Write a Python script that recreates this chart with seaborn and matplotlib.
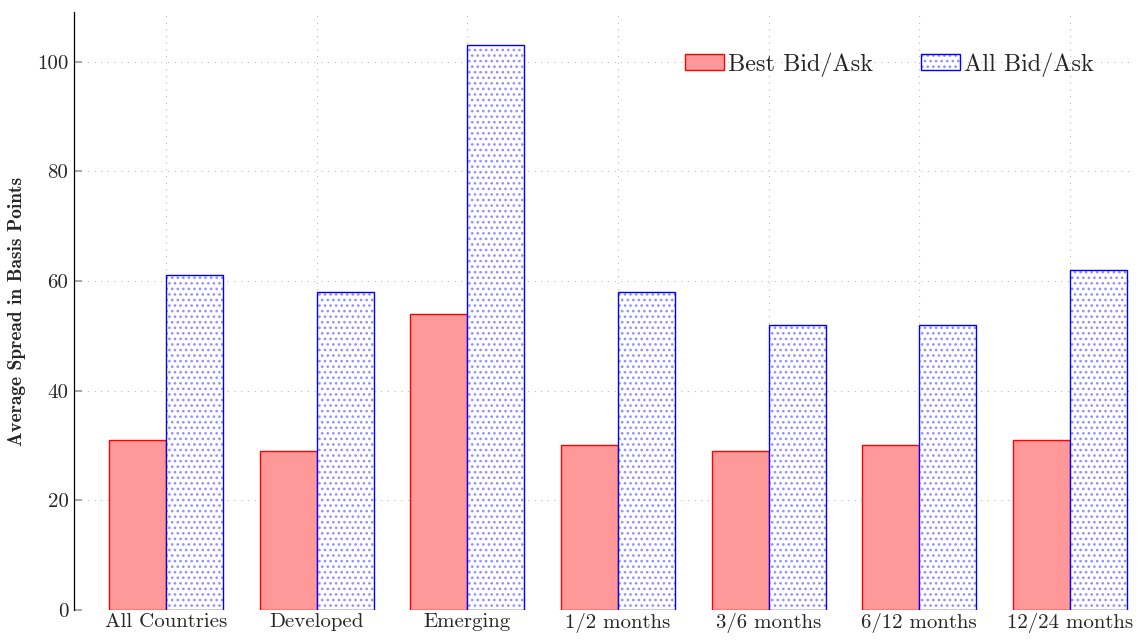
import matplotlib
matplotlib.use("Agg")
import matplotlib.pyplot as plt
import seaborn as sns
import pandas as pd
from matplotlib.patches import Patch
from matplotlib.legend_handler import HandlerTuple

categories = ["All Countries", "Developed", "Emerging", "1/2 months",
              "3/6 months", "6/12 months", "12/24 months"]
best_bid_ask = [31, 29, 54, 30, 29, 30, 31]
all_bid_ask = [61, 58, 103, 58, 52, 52, 62]
series_names = ["Best Bid/Ask", "All Bid/Ask"]
y_ticks = [0, 20, 40, 60, 80, 100]

sns.set_theme(style="white")
plt.rcParams["font.family"] = ["cmr10", "DejaVu Serif"]
plt.rcParams["mathtext.fontset"] = "cm"
plt.rcParams["axes.formatter.use_mathtext"] = True
plt.rcParams["hatch.linewidth"] = 1.1

DOT = "#9090ff"

df = pd.DataFrame({
    "category": categories * 2,
    "value": best_bid_ask + all_bid_ask,
    "series": [series_names[0]] * len(categories) + [series_names[1]] * len(categories),
})

fig = plt.figure(figsize=(11.39, 6.42), dpi=100)
ax = fig.add_axes([0.065, 0.05, 0.93, 0.931])

sns.barplot(data=df, x="category", y="value", hue="series", order=categories,
            hue_order=series_names, palette=["#ff9999", "white"], width=0.755,
            saturation=1, errorbar=None, ax=ax, legend=False, zorder=3)

n = len(categories)
for i, p in enumerate(ax.patches[:2 * n]):
    if i < n:
        p.set_facecolor("#ff9999")
        p.set_edgecolor("red")
        p.set_linewidth(1.0)
    else:
        p.set_facecolor("white")
        p.set_edgecolor(DOT)
        p.set_hatch("...")
        p.set_linewidth(0)
        x, w, h = p.get_x(), p.get_width(), p.get_height()
        ax.bar(x + w / 2, h, width=w, fill=False, edgecolor="blue",
               linewidth=1.0, zorder=4)

ax.set_xlim(-0.61, 6.42)
ax.set_ylim(0, 109)
ax.set_yticks(y_ticks)
ax.set_yticklabels([str(t) for t in y_ticks], fontsize=15)
ax.set_xticks(range(n))
ax.set_xticklabels(categories, fontsize=15)
ax.set_xlabel("")
ax.set_ylabel("Average Spread in Basis Points", fontsize=14,
              family=["cmb10", "DejaVu Serif"], labelpad=8)

ax.grid(True, axis="both", linestyle=(0, (1, 5)), color="#bbbbbb", linewidth=0.8, zorder=0)
ax.set_axisbelow(True)
for s in ["top", "right", "bottom"]:
    ax.spines[s].set_visible(False)
ax.spines["left"].set_color("black")
ax.spines["left"].set_linewidth(0.9)
ax.tick_params(axis="y", direction="in", length=6, color="#999999", width=1.2, pad=4, left=True)
ax.tick_params(axis="x", length=0, pad=2)

h_red = Patch(facecolor="#ff9999", edgecolor="red", linewidth=1.0)
h_dots = Patch(facecolor="white", edgecolor=DOT, hatch="...", linewidth=0)
h_edge = Patch(facecolor="none", edgecolor="blue", linewidth=1.0)
ax.legend([h_red, (h_dots, h_edge)], series_names, loc="upper right",
          bbox_to_anchor=(0.983, 0.97),
          handler_map={tuple: HandlerTuple(ndivide=1, pad=0)},
          ncol=2, frameon=False, fontsize=17.5, handlelength=1.6, handleheight=0.6,
          handletextpad=0.15, columnspacing=2.0)

fig.savefig("out.png", dpi=100)
